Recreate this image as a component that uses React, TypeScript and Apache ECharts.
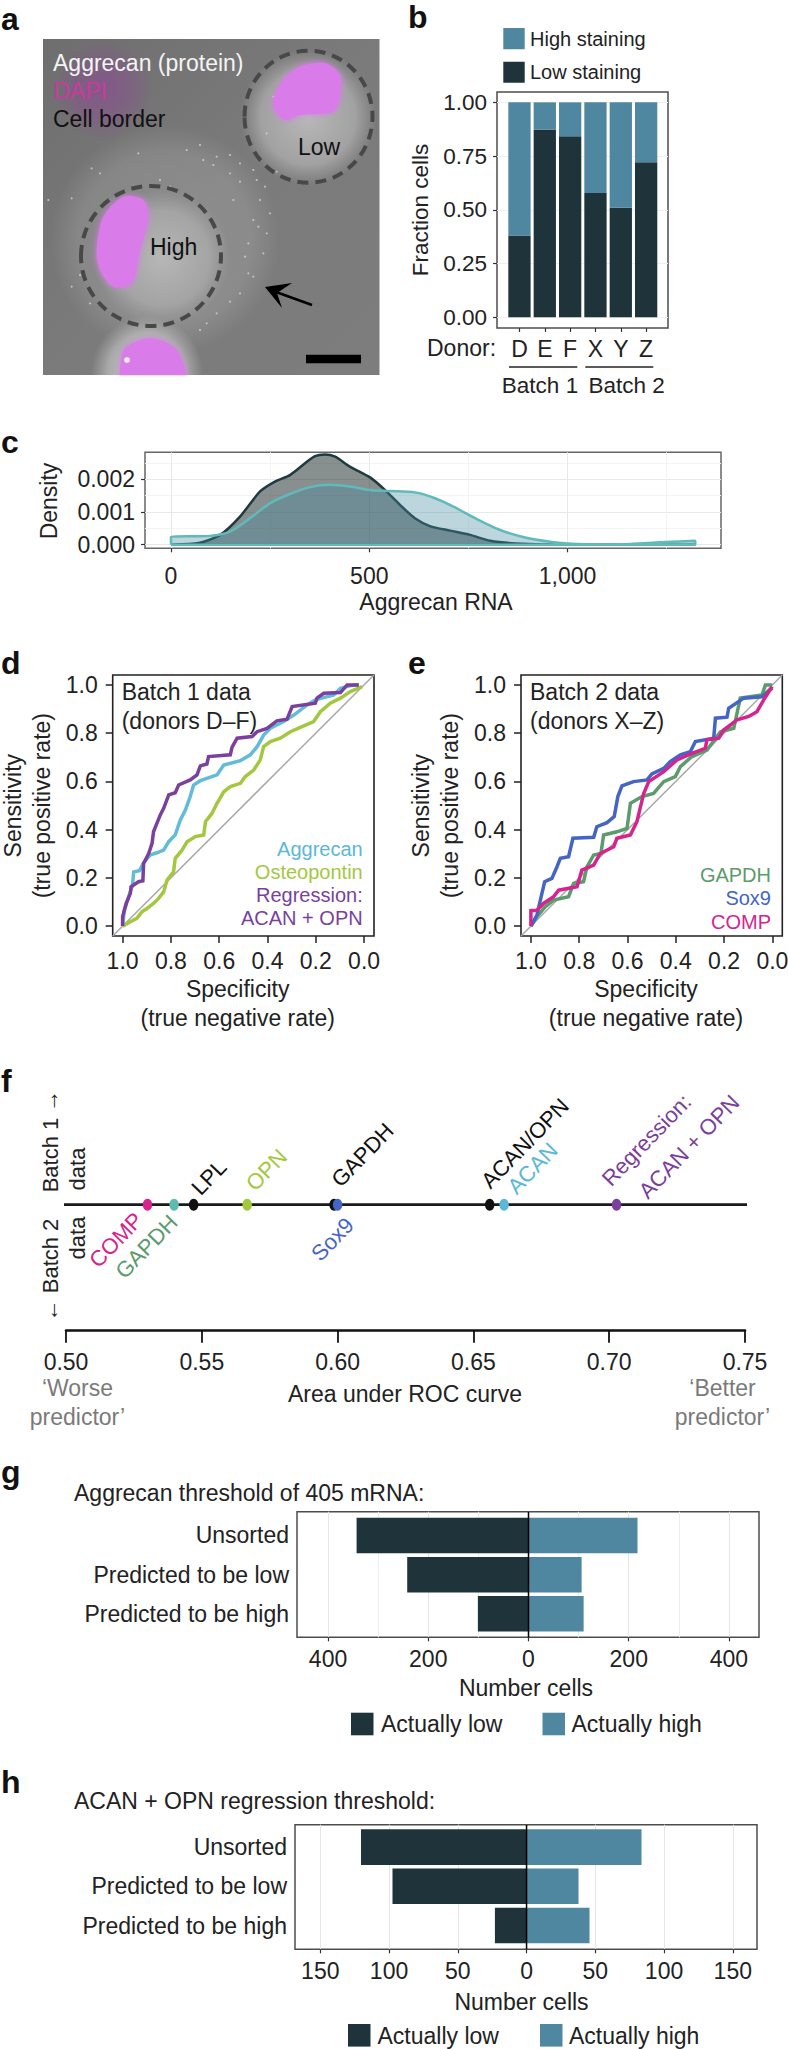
import React, { useEffect, useRef } from "react";
import * as echarts from "echarts";

const F = '"Liberation Sans", Arial, sans-serif';
const INK = "#222222";
const DARK = "#1f343a";
const TEAL = "#4f87a0";
const NO_LINE = { show: false, onZero: false };

// panel b
const donors = ["D", "E", "F", "X", "Y", "Z"];
const lowStaining = [0.381, 0.874, 0.842, 0.578, 0.51, 0.721];
const highStaining = [0.619, 0.126, 0.158, 0.422, 0.49, 0.279];

// panel c (density in thousandths)
const densityLow = [[0, 0], [0, 0.02], [73, 0.06], [124, 0.3], [174, 0.86], [224, 1.62], [262, 1.93], [300, 2.13], [338, 2.49], [363, 2.71], [388, 2.76], [414, 2.69], [451, 2.39], [502, 2.06], [540, 1.67], [578, 1.21], [615, 0.81], [653, 0.57], [704, 0.43], [754, 0.3], [805, 0.12], [868, 0.04], [1000, 0], [1322, 0], [0, 0]];
const densityHigh = [[0, 0], [0, 0.24], [98, 0.27], [149, 0.4], [199, 0.81], [250, 1.27], [300, 1.55], [351, 1.76], [401, 1.83], [451, 1.78], [502, 1.67], [552, 1.64], [615, 1.6], [666, 1.42], [716, 1.14], [767, 0.81], [830, 0.45], [893, 0.22], [956, 0.09], [1000, 0.04], [1082, 0.01], [1158, 0.02], [1246, 0.08], [1322, 0.12], [1322, 0], [0, 0]];

// panel d
const rocRegression = [[1, 0], [1, 0.039], [0.985, 0.094], [0.968, 0.136], [0.965, 0.163], [0.934, 0.184], [0.916, 0.188], [0.913, 0.26], [0.892, 0.301], [0.878, 0.343], [0.872, 0.391], [0.858, 0.426], [0.844, 0.461], [0.83, 0.488], [0.809, 0.544], [0.782, 0.553], [0.768, 0.585], [0.72, 0.606], [0.692, 0.627], [0.678, 0.664], [0.651, 0.672], [0.644, 0.703], [0.554, 0.71], [0.547, 0.741], [0.526, 0.779], [0.464, 0.786], [0.443, 0.806], [0.402, 0.82], [0.361, 0.851], [0.319, 0.858], [0.298, 0.91], [0.202, 0.924], [0.195, 0.945], [0.167, 0.965], [0.098, 0.968], [0.07, 1], [0.022, 1]];
const rocAggrecan = [[1, 0], [0.993, 0.066], [0.975, 0.122], [0.959, 0.17], [0.954, 0.225], [0.93, 0.23], [0.913, 0.263], [0.885, 0.295], [0.858, 0.304], [0.83, 0.315], [0.809, 0.35], [0.782, 0.378], [0.761, 0.44], [0.74, 0.481], [0.72, 0.537], [0.706, 0.585], [0.678, 0.603], [0.609, 0.627], [0.581, 0.668], [0.512, 0.686], [0.471, 0.71], [0.443, 0.744], [0.416, 0.792], [0.388, 0.82], [0.333, 0.848], [0.291, 0.875], [0.236, 0.917], [0.202, 0.938], [0.126, 0.958], [0.098, 0.986], [0.043, 1], [0.022, 1]];
const rocOsteopontin = [[1, 0], [0.968, 0.018], [0.941, 0.032], [0.92, 0.059], [0.899, 0.073], [0.872, 0.094], [0.851, 0.115], [0.83, 0.142], [0.816, 0.191], [0.789, 0.225], [0.782, 0.281], [0.754, 0.315], [0.733, 0.35], [0.699, 0.371], [0.664, 0.378], [0.657, 0.433], [0.63, 0.467], [0.609, 0.509], [0.581, 0.557], [0.554, 0.578], [0.512, 0.592], [0.492, 0.62], [0.457, 0.647], [0.43, 0.689], [0.416, 0.744], [0.388, 0.765], [0.347, 0.779], [0.305, 0.806], [0.264, 0.824], [0.209, 0.848], [0.181, 0.889], [0.14, 0.924], [0.098, 0.945], [0.057, 0.972], [0.008, 0.993]];

// panel e
const rocGapdh = [[1, 0], [0.975, 0.039], [0.941, 0.08], [0.906, 0.108], [0.844, 0.122], [0.823, 0.177], [0.782, 0.184], [0.768, 0.246], [0.74, 0.295], [0.71, 0.301], [0.699, 0.378], [0.644, 0.391], [0.602, 0.405], [0.588, 0.509], [0.54, 0.537], [0.492, 0.55], [0.45, 0.599], [0.402, 0.62], [0.381, 0.661], [0.333, 0.703], [0.271, 0.73], [0.215, 0.806], [0.16, 0.82], [0.133, 0.945], [0.043, 0.958], [0.029, 1], [0.001, 1]];
const rocSox9 = [[1, 0], [0.975, 0.046], [0.964, 0.094], [0.943, 0.184], [0.913, 0.198], [0.892, 0.246], [0.878, 0.281], [0.844, 0.288], [0.826, 0.364], [0.74, 0.368], [0.727, 0.412], [0.685, 0.429], [0.655, 0.454], [0.64, 0.537], [0.623, 0.581], [0.575, 0.599], [0.519, 0.606], [0.499, 0.631], [0.45, 0.654], [0.423, 0.682], [0.381, 0.71], [0.34, 0.723], [0.319, 0.765], [0.243, 0.779], [0.236, 0.862], [0.188, 0.866], [0.181, 0.903], [0.119, 0.945], [0.043, 0.951], [0.001, 0.986]];
const rocComp = [[1, 0], [1, 0.064], [0.975, 0.066], [0.948, 0.094], [0.906, 0.122], [0.885, 0.149], [0.809, 0.163], [0.789, 0.232], [0.74, 0.253], [0.713, 0.301], [0.657, 0.329], [0.644, 0.364], [0.588, 0.378], [0.561, 0.433], [0.533, 0.55], [0.512, 0.599], [0.45, 0.64], [0.395, 0.689], [0.333, 0.716], [0.278, 0.737], [0.271, 0.772], [0.222, 0.779], [0.202, 0.813], [0.146, 0.855], [0.098, 0.869], [0.064, 0.889], [0.036, 0.938], [0.001, 0.993]];

// panel f
const aucNames = ["COMP", "GAPDH (batch 2)", "LPL", "OPN", "GAPDH (batch 1)", "Sox9", "ACAN/OPN", "ACAN", "Regression"];
const aucValues = [0.53, 0.5398, 0.547, 0.5667, 0.5987, 0.6, 0.656, 0.6613, 0.7027];
const aucColors = ["#d5248e", "#5fbab0", "#111111", "#a3c83f", "#111111", "#4464c6", "#111111", "#5bb8d6", "#7b3f9d"];
const aucTicks = [0.5, 0.55, 0.6, 0.65, 0.7, 0.75];

// panel g
const sortGroups = ["Unsorted", "Predicted to be low", "Predicted to be high"];
const thresholdLow = [343, 242, 101];
const thresholdHigh = [217.5, 106, 110];
// panel h
const regressionLow = [120.4, 97.5, 23];
const regressionHigh = [83.6, 37.8, 45.8];

// panel a: photograph decoration, in 3x picture units
const speckles = [[600, 435], [560, 450], [650, 470], [690, 465], [720, 490], [640, 495], [760, 510], [795, 560], [780, 600], [810, 640], [760, 660], [800, 700], [745, 730], [790, 760], [745, 820], [760, 830], [720, 880], [690, 905], [650, 940], [620, 970], [275, 505], [300, 520], [215, 595], [145, 600], [240, 825], [215, 860], [270, 910], [330, 850], [480, 540], [510, 560], [820, 290], [800, 400], [950, 300], [985, 200], [930, 300], [720, 545], [690, 520], [610, 480], [415, 460], [830, 515], [770, 540], [700, 600], [775, 680], [735, 770], [600, 990]];
const nucleusLow = [[850, 240], [900, 200], [975, 190], [1020, 225], [1020, 290], [1000, 335], [900, 345], [855, 360], [825, 330], [820, 300]];
const nucleusHigh = [[370, 590], [430, 600], [445, 650], [420, 750], [395, 850], [340, 860], [300, 810], [290, 750], [310, 650]];
const nucleusBottom = [[380, 1040], [450, 1015], [520, 1040], [550, 1090], [552, 1140], [368, 1140], [365, 1070]];

const grids: any[] = [];
const xAxes: any[] = [];
const yAxes: any[] = [];
const series: any[] = [];
const gfx: any[] = [];

function addGrid(left: number, top: number, right: number, bottom: number, border?: string, bw = 1.5) {
  grids.push({
    left, top, width: right - left, height: bottom - top, containLabel: false, outerBoundsMode: "none",
    show: !!border, borderColor: border || "transparent", borderWidth: border ? bw : 0, backgroundColor: "transparent",
  });
  return grids.length - 1;
}
const addX = (o: any) => (xAxes.push(o), xAxes.length - 1);
const addY = (o: any) => (yAxes.push(o), yAxes.length - 1);
const hiddenAxis = (gridIndex: number, min: number, max: number) => ({ gridIndex, type: "value", min, max, show: false });
const label = (margin: number, formatter: any, customValues?: number[], size = 23) => ({
  show: true, margin, formatter, customValues, fontSize: size, fontFamily: F, color: INK, hideOverlap: false,
});
const tick = (length: number, customValues?: number[], width = 1.2, color = "#333") => ({ show: true, length, customValues, lineStyle: { color, width } });

function text(t: string, x: number, y: number, o: any = {}) {
  gfx.push({
    type: "text", x, y, rotation: ((o.rot || 0) * Math.PI) / 180, silent: true,
    style: {
      text: t, fill: o.color || INK, fontSize: o.size || 23, fontFamily: F, fontWeight: o.weight || "normal",
      align: o.align || "left", verticalAlign: "middle", textAlign: o.align || "left", textVerticalAlign: "middle",
    },
  });
}
function panelLetter(t: string, x: number, y: number) {
  text(t, x, y, { size: 32, weight: "bold", color: "#111" });
}
const pts = (a: number[][]) => a.map(([x, y]) => [x / 3, y / 3]);

function drawPhoto() {
  gfx.push({ type: "rect", shape: { x: 43, y: 39, width: 336.5, height: 336 }, style: { fill: { type: "linear", x: 0, y: 0, x2: 1, y2: 1, colorStops: [{ offset: 0, color: "#6e6e6e" }, { offset: 0.5, color: "#7b7b7b" }, { offset: 1, color: "#7d7d7d" }] } } });
  const glow = (cx: number, cy: number, r: number, stops: [number, string][]) =>
    gfx.push({ type: "circle", shape: { cx, cy, r }, style: { fill: { type: "radial", x: 0.5, y: 0.5, r: 0.5, colorStops: stops.map(([offset, color]) => ({ offset, color })) } } });
  glow(103, 90, 50, [[0, "rgba(150,60,160,0.5)"], [0.6, "rgba(150,60,160,0.28)"], [1, "rgba(150,60,160,0)"]]);
  glow(165, 240, 115, [[0, "rgba(255,255,255,0.14)"], [0.75, "rgba(255,255,255,0.12)"], [1, "rgba(255,255,255,0)"]]);
  glow(308, 117, 68, [[0, "rgba(225,225,225,0.6)"], [0.7, "rgba(215,215,215,0.42)"], [1, "rgba(200,200,200,0)"]]);
  glow(162, 258, 68, [[0, "rgba(225,225,225,0.5)"], [0.7, "rgba(215,215,215,0.32)"], [1, "rgba(200,200,200,0)"]]);
  glow(147, 372, 56, [[0, "rgba(235,235,235,0.85)"], [0.7, "rgba(215,215,215,0.5)"], [1, "rgba(200,200,200,0)"]]);
  speckles.forEach(([x, y]) => gfx.push({ type: "circle", shape: { cx: x / 3, cy: y / 3, r: 1.1 }, style: { fill: "rgba(235,235,235,0.6)" } }));
  [nucleusLow, nucleusHigh, nucleusBottom].forEach((n) =>
    gfx.push({ type: "polygon", shape: { points: pts(n), smooth: 0.3 }, style: { fill: "#d97bea", shadowBlur: 6, shadowColor: "#d97bea" } }));
  gfx.push({ type: "circle", shape: { cx: 127, cy: 360, r: 3 }, style: { fill: "#f4e6f6" } });
  gfx.push({ type: "rect", shape: { x: 40, y: 375.3, width: 345, height: 60 }, style: { fill: "#fff" } });
  gfx.push({ type: "ellipse", shape: { cx: 308.5, cy: 116.7, rx: 64, ry: 66 }, style: { fill: "none", stroke: "#484848", lineWidth: 4, lineDash: [11, 7] } });
  gfx.push({ type: "ellipse", shape: { cx: 151, cy: 256, rx: 70, ry: 70 }, style: { fill: "none", stroke: "#484848", lineWidth: 4, lineDash: [11, 7] } });
  gfx.push({ type: "line", shape: { x1: 312, y1: 305, x2: 276, y2: 292 }, style: { stroke: "#000", lineWidth: 2.5 } });
  gfx.push({ type: "polygon", shape: { points: [[265, 287], [292, 283], [277, 293], [282, 308]] }, style: { fill: "#000" } });
  gfx.push({ type: "rect", shape: { x: 306, y: 354.7, width: 55, height: 8.6 }, style: { fill: "#000" } });
  text("Aggrecan (protein)", 53, 63, { color: "#f4f4f4" });
  text("DAPI", 53, 91, { color: "#c93a9b" });
  text("Cell border", 53, 119, { color: "#111" });
  text("Low", 298, 147, { color: "#111" });
  text("High", 150, 247, { color: "#111" });
}

function panelB() {
  const min = -0.0498, max = 1.048;
  const g0 = addGrid(497, 92, 668, 328, "#4d4d4d");
  addX(hiddenAxis(g0, 0, 1));
  const ticks = [0, 0.25, 0.5, 0.75, 1];
  addY({
    gridIndex: g0, type: "value", min, max,
    axisLine: NO_LINE, axisTick: tick(4, ticks),
    axisLabel: label(10, (v: number) => v.toFixed(2), ticks, 22.5),
    splitLine: { show: true, lineStyle: { color: "#efefef", width: 1 } },
  });
  const g1 = addGrid(506.8, 92, 658.8, 328);
  const x1 = addX({
    gridIndex: g1, type: "category", data: donors, boundaryGap: true,
    axisLine: NO_LINE, axisTick: { show: true, alignWithLabel: true, length: 4, lineStyle: { color: "#333", width: 1.2 } },
    axisLabel: label(9, undefined, undefined, 23),
  });
  const y1 = addY(hiddenAxis(g1, min, max));
  series.push({ type: "bar", xAxisIndex: x1, yAxisIndex: y1, stack: "staining", barWidth: "88%", data: lowStaining, itemStyle: { color: DARK }, z: 3 });
  series.push({ type: "bar", xAxisIndex: x1, yAxisIndex: y1, stack: "staining", barWidth: "88%", data: highStaining, itemStyle: { color: TEAL }, z: 3 });
  gfx.push({ type: "rect", shape: { x: 503.3, y: 28, width: 21.4, height: 21.3 }, style: { fill: TEAL } });
  gfx.push({ type: "rect", shape: { x: 503.3, y: 61.7, width: 21.4, height: 21 }, style: { fill: DARK } });
  text("High staining", 530, 38.7, { size: 20 });
  text("Low staining", 530, 72.3, { size: 20 });
  text("Fraction cells", 420, 210, { rot: 90, align: "center", size: 22.5 });
  text("Donor:", 427, 348.3);
  gfx.push({ type: "line", shape: { x1: 509, y1: 367, x2: 577.3, y2: 367 }, style: { stroke: "#222", lineWidth: 1.5 } });
  gfx.push({ type: "line", shape: { x1: 585.3, y1: 367, x2: 653.3, y2: 367 }, style: { stroke: "#222", lineWidth: 1.5 } });
  text("Batch 1", 540, 385, { align: "center", size: 22.5 });
  text("Batch 2", 626.7, 385, { align: "center", size: 22.5 });
}

function panelC() {
  const g = addGrid(145, 452.3, 721, 548.3, "#666666");
  const xmin = -65.6, xmax = 1387;
  const ymin = -0.00011, ymax = 0.002826;
  const xt = [0, 500, 1000];
  const yt = [0, 0.001, 0.002];
  const x = addX({
    gridIndex: g, type: "value", min: xmin, max: xmax,
    axisLine: NO_LINE, axisTick: tick(4, xt),
    axisLabel: label(16, (v: number) => v.toLocaleString("en-US"), xt),
    splitLine: { show: true, lineStyle: { color: "#e8e8e8", width: 1 } },
  });
  const y = addY({
    gridIndex: g, type: "value", min: ymin, max: ymax,
    axisLine: NO_LINE, axisTick: tick(4, yt),
    axisLabel: label(10, (v: number) => v.toFixed(3), yt),
    splitLine: { show: true, lineStyle: { color: "#e8e8e8", width: 1 } },
  });
  const minorX = [250, 750, 1250];
  const minorY = [0.0005, 0.0015, 0.0025];
  addX({ gridIndex: g, type: "value", position: "top", min: xmin, max: xmax, axisLine: NO_LINE, axisLabel: { show: false }, axisTick: { show: false, customValues: minorX }, splitLine: { show: true, lineStyle: { color: "#f4f4f4", width: 1 } } });
  addY({ gridIndex: g, type: "value", position: "right", min: ymin, max: ymax, axisLine: NO_LINE, axisLabel: { show: false }, axisTick: { show: false, customValues: minorY }, splitLine: { show: true, lineStyle: { color: "#f4f4f4", width: 1 } } });
  const toDensity = (a: number[][]) => a.map(([v, d]) => [v, d / 1000]);
  series.push({ type: "line", xAxisIndex: x, yAxisIndex: y, showSymbol: false, smooth: 0.25, data: toDensity(densityLow), lineStyle: { color: "#1f3a40", width: 2.5 }, areaStyle: { color: "rgba(28,43,41,0.75)" }, z: 2 });
  series.push({ type: "line", xAxisIndex: x, yAxisIndex: y, showSymbol: false, smooth: 0.25, data: toDensity(densityHigh), lineStyle: { color: "#5fbabb", width: 2.5 }, areaStyle: { color: "rgba(69,137,159,0.51)" }, z: 3 });
  text("Density", 49, 501, { rot: 90, align: "center" });
  text("Aggrecan RNA", 436, 601.7, { align: "center" });
}

function roc(left: number, curves: { data: number[][]; color: string }[], titleLines: string[], legend: { t: string; c: string; y: number }[], yTitleX: number[]) {
  const right = left + 261.3;
  const g = addGrid(left, 675, right, 936, "#222222", 1.6);
  const t = [0, 0.2, 0.4, 0.6, 0.8, 1];
  const x = addX({
    gridIndex: g, type: "value", min: -0.041, max: 1.041, inverse: true,
    axisLine: NO_LINE, axisTick: tick(7, t, 1.5, "#222"),
    axisLabel: label(13, (v: number) => v.toFixed(1), t), splitLine: { show: false },
  });
  const y = addY({
    gridIndex: g, type: "value", min: -0.041, max: 1.041,
    axisLine: NO_LINE, axisTick: tick(7, t, 1.5, "#222"),
    axisLabel: label(15, (v: number) => v.toFixed(1), t), splitLine: { show: false },
  });
  series.push({ type: "line", xAxisIndex: x, yAxisIndex: y, showSymbol: false, data: [[1.041, -0.041], [-0.041, 1.041]], lineStyle: { color: "#a8a8a8", width: 1.5 }, z: 2 });
  curves.forEach((c, i) => series.push({ type: "line", xAxisIndex: x, yAxisIndex: y, showSymbol: false, data: c.data, lineStyle: { color: c.color, width: 3.5, join: "miter" }, z: 3 + i }));
  titleLines.forEach((s, i) => text(s, left + 9, i ? 720.7 : 692));
  legend.forEach((l) => text(l.t, right - 11.3, l.y, { align: "right", color: l.c, size: 20 }));
  const cx = left + 125;
  text("Specificity", cx, 989, { align: "center" });
  text("(true negative rate)", cx, 1017.7, { align: "center" });
  text("Sensitivity", yTitleX[0], 805.7, { rot: 90, align: "center" });
  text("(true positive rate)", yTitleX[1], 805.7, { rot: 90, align: "center" });
}

function panelF() {
  const g = addGrid(66, 1078.7, 745, 1330.7);
  const x = addX({
    gridIndex: g, type: "value", min: 0.5, max: 0.75, interval: 0.05,
    axisLine: { show: true, onZero: false, lineStyle: { color: "#111", width: 2.6 } },
    axisTick: tick(12, aucTicks, 1.8, "#111"),
    axisLabel: label(19.5, (v: number) => v.toFixed(2), aucTicks), splitLine: { show: false },
  });
  const y = addY({ gridIndex: g, type: "value", min: -1, max: 1, show: false });
  series.push({ type: "line", xAxisIndex: x, yAxisIndex: y, clip: false, showSymbol: false, data: [[0.4585, 0], [0.751, 0]], lineStyle: { color: "#1a1a1a", width: 2.8 }, z: 2 });
  series.push({
    type: "scatter", xAxisIndex: x, yAxisIndex: y, symbol: "circle", symbolSize: [9.5, 12], z: 3,
    name: "AUC",
    data: aucValues.map((v, i) => ({ name: aucNames[i], value: [v, 0], itemStyle: { color: aucColors[i], opacity: 1 } })),
  });
  const R = 46;
  const lab = (t: string, cx: number, cy: number, color: string) => text(t, cx, cy, { rot: R, align: "center", color, size: 22 });
  lab("LPL", 209, 1177.3, "#111");
  lab("OPN", 266.5, 1170, "#a3c83f");
  lab("GAPDH", 362.5, 1155, "#111");
  lab("ACAN/OPN", 525, 1143.3, "#111");
  lab("ACAN", 532.5, 1168.3, "#5bb8d6");
  lab("Regression:", 646.5, 1140, "#7b3f9d");
  lab("ACAN + OPN", 689, 1146.7, "#7b3f9d");
  lab("COMP", 116, 1240, "#d5248e");
  lab("GAPDH", 146.5, 1246.7, "#5b9b6c");
  lab("Sox9", 332.5, 1239.3, "#4464c6");
  text("Batch 1 →", 50, 1141, { rot: 90, align: "center", size: 22 });
  text("data", 77, 1169, { rot: 90, align: "center", size: 22 });
  text("← Batch 2", 50, 1270, { rot: 90, align: "center", size: 22 });
  text("data", 77, 1238, { rot: 90, align: "center", size: 22 });
  text("‘Worse", 77.5, 1388, { align: "center", color: "#7a7a7a" });
  text("predictor’", 77.5, 1416.7, { align: "center", color: "#7a7a7a" });
  text("‘Better", 722.5, 1388, { align: "center", color: "#7a7a7a" });
  text("predictor’", 722.5, 1416.7, { align: "center", color: "#7a7a7a" });
  text("Area under ROC curve", 405, 1394.3, { align: "center" });
}

function pyramid(opt: any) {
  const { left, right, top, bottom, innerTop, innerBottom, min, max, ticks, minor, low, high, margin, stack } = opt;
  const g0 = addGrid(left, top, right, bottom, "#4d4d4d");
  const x0 = addX({
    gridIndex: g0, type: "value", min, max,
    axisLine: NO_LINE, axisTick: tick(4, ticks),
    axisLabel: label(margin, (v: number) => String(Math.abs(v)), ticks),
    splitLine: { show: true, lineStyle: { color: "#e6e6e6", width: 1 } },
  });
  const y0 = addY({ gridIndex: g0, type: "value", min: 0, max: 1, show: false });
  if (minor) {
    addX({ gridIndex: g0, type: "value", position: "top", min, max, axisLine: NO_LINE, axisLabel: { show: false }, axisTick: { show: false, customValues: minor }, splitLine: { show: true, lineStyle: { color: "#ededed", width: 1 } } });
  }
  const g1 = addGrid(left, innerTop, right, innerBottom);
  const x1 = addX(hiddenAxis(g1, min, max));
  const y1 = addY({
    gridIndex: g1, type: "category", data: sortGroups, inverse: true,
    axisLine: NO_LINE, axisTick: { show: false }, axisLabel: label(8, undefined),
  });
  series.push({ type: "bar", xAxisIndex: x1, yAxisIndex: y1, stack, barWidth: "90.7%", data: low.map((v: number) => -v), itemStyle: { color: DARK }, z: 2 });
  series.push({ type: "bar", xAxisIndex: x1, yAxisIndex: y1, stack, barWidth: "90.7%", data: high, itemStyle: { color: TEAL }, z: 2 });
  series.push({ type: "line", xAxisIndex: x0, yAxisIndex: y0, showSymbol: false, data: [[0, 0], [0, 1]], lineStyle: { color: "#000", width: 1.5 }, z: 5 });
}

function legendRow(x1: number, x2: number, y: number, cy: number, t1: number, t2: number) {
  gfx.push({ type: "rect", shape: { x: x1, y, width: 22.5, height: 22.6 }, style: { fill: DARK } });
  gfx.push({ type: "rect", shape: { x: x2, y, width: 22.5, height: 22.6 }, style: { fill: TEAL } });
  text("Actually low", t1, cy);
  text("Actually high", t2, cy);
}

function buildAll() {
  drawPhoto();
  panelB();
  panelC();
  roc(112.7, [
    { data: rocOsteopontin, color: "#a3c83f" },
    { data: rocAggrecan, color: "#62bbd8" },
    { data: rocRegression, color: "#7b3f9d" },
  ], ["Batch 1 data", "(donors D–F)"], [
    { t: "Aggrecan", c: "#5bb8d6", y: 849 },
    { t: "Osteopontin", c: "#a3c83f", y: 872 },
    { t: "Regression:", c: "#7b3f9d", y: 895 },
    { t: "ACAN + OPN", c: "#7b3f9d", y: 918 },
  ], [12.5, 41.7]);
  roc(521, [
    { data: rocGapdh, color: "#5b9b6c" },
    { data: rocSox9, color: "#4464c6" },
    { data: rocComp, color: "#d5248e" },
  ], ["Batch 2 data", "(donors X–Z)"], [
    { t: "GAPDH", c: "#5b9b6c", y: 875 },
    { t: "Sox9", c: "#4464c6", y: 898 },
    { t: "COMP", c: "#d5248e", y: 922 },
  ], [420.7, 450]);
  panelF();
  pyramid({
    left: 297, right: 759, top: 1511.7, bottom: 1637.3, innerTop: 1515.9, innerBottom: 1633.4, stack: "thresholdCells",
    min: -461.9, max: 459.9, ticks: [-400, -200, 0, 200, 400], minor: [-300, -100, 100, 300],
    low: thresholdLow, high: thresholdHigh, margin: 10,
  });
  pyramid({
    left: 295, right: 757, top: 1824.7, bottom: 1949.3, innerTop: 1827.5, innerBottom: 1945.1, stack: "regressionCells",
    min: -168.4, max: 167.6, ticks: [-150, -100, -50, 0, 50, 100, 150], minor: null,
    low: regressionLow, high: regressionHigh, margin: 10,
  });
  text("Aggrecan threshold of 405 mRNA:", 74, 1492.7);
  text("Number cells", 526, 1688, { align: "center" });
  legendRow(351, 542.5, 1712.7, 1723.5, 381, 571.5);
  text("ACAN + OPN regression threshold:", 74, 1801);
  text("Number cells", 521.5, 2001.7, { align: "center" });
  legendRow(348, 540, 2024, 2036, 377.5, 569);
  panelLetter("a", 1, 19);
  panelLetter("b", 408, 17);
  panelLetter("c", 1, 442);
  panelLetter("d", 1, 663);
  panelLetter("e", 408, 663);
  panelLetter("f", 1, 1081);
  panelLetter("g", 1, 1472);
  panelLetter("h", 1, 1782);
}

export default function App() {
  const ref = useRef<HTMLDivElement>(null);
  useEffect(() => {
    grids.length = xAxes.length = yAxes.length = series.length = gfx.length = 0;
    buildAll();
    const chart = echarts.init(ref.current!, null, { renderer: "svg" });
    chart.setOption({
      animation: false,
      backgroundColor: "#ffffff",
      textStyle: { fontFamily: F },
      grid: grids, xAxis: xAxes, yAxis: yAxes, series,
      graphic: { elements: gfx },
    });
    return () => chart.dispose();
  }, []);
  return <div ref={ref} style={{ position: "absolute", left: 0, top: 0, width: 788, height: 2049 }} />;
}
